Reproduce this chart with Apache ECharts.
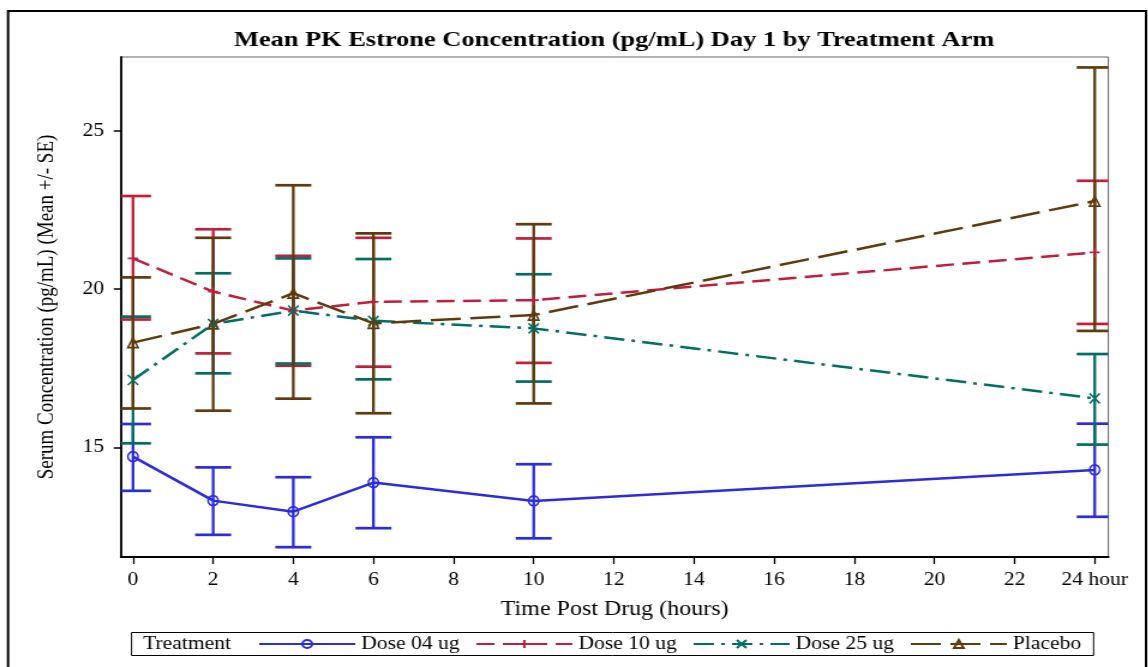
<!DOCTYPE html>
<html>
<head>
<meta charset="utf-8">
<script src="https://cdn.jsdelivr.net/npm/echarts@6/dist/echarts.min.js"></script>
<style>
  html, body { margin: 0; padding: 0; background: #fff; overflow: hidden; }
  /* The figure is laid out on a narrower canvas and widened horizontally,
     giving the wide serif lettering of the printed report. */
  #chart { width: 956.67px; height: 667px; transform: scaleX(1.2); transform-origin: 0 0; }
</style>
</head>
<body>
<div id="chart"></div>
<script>
// Sampling times (hours post dose)
const times = [0, 2, 4, 6, 10, 24];
const xTicks = [0, 2, 4, 6, 8, 10, 12, 14, 16, 18, 20, 22, 24];
const yTicks = [15, 20, 25];

// Mean estrone (pg/mL) with mean - SE / mean + SE per arm
const dose04Mean = [14.71, 13.32, 12.97, 13.89, 13.31, 14.29];
const dose04Lo   = [13.63, 12.24, 11.85, 12.45, 12.13, 12.81];
const dose04Hi   = [15.74, 14.37, 14.06, 15.32, 14.47, 15.75];

const dose10Mean = [20.97, 19.92, 19.32, 19.60, 19.65, 21.16];
const dose10Lo   = [19.04, 17.97, 17.58, 17.55, 17.67, 18.90];
const dose10Hi   = [22.94, 21.89, 21.05, 21.62, 21.60, 23.42];

const dose25Mean = [17.13, 18.90, 19.32, 19.00, 18.76, 16.55];
const dose25Lo   = [15.13, 17.34, 17.65, 17.15, 17.08, 15.09];
const dose25Hi   = [19.13, 20.50, 20.97, 20.95, 20.47, 17.95];

const placeboMean = [18.31, 18.90, 19.87, 18.92, 19.18, 22.78];
const placeboLo   = [16.23, 16.16, 16.54, 16.08, 16.39, 18.68];
const placeboHi   = [20.37, 21.62, 23.28, 21.76, 22.05, 27.00];

const arms = [
  { name: 'Dose 04 ug', mean: dose04Mean, lo: dose04Lo, hi: dose04Hi, color: '#2b2be0',
    dash: 'solid', symbol: 'path://M10,5 A5,5 0 1 1 0,5 A5,5 0 1 1 10,5 Z' },
  { name: 'Dose 10 ug', mean: dose10Mean, lo: dose10Lo, hi: dose10Hi, color: '#c01e3c',
    dash: [15, 7], symbol: 'path://M5,0 L5,10 M0,5 L10,5' },
  { name: 'Dose 25 ug', mean: dose25Mean, lo: dose25Lo, hi: dose25Hi, color: '#006e64',
    dash: [17, 6, 3, 6], symbol: 'path://M0,0 L10,10 M10,0 L0,10' },
  { name: 'Placebo', mean: placeboMean, lo: placeboLo, hi: placeboHi, color: '#5f3a0c',
    dash: [25, 8], symbol: 'path://M5,0 L10,9 L0,9 Z' }
];

const FONT = '"Liberation Serif", "DejaVu Serif", serif';

// Vertical SE bar with end caps, caps clipped to the plot area
function errorBarRenderer(color) {
  return function (params, api) {
    const x = api.value(0);
    const pHi = api.coord([x, api.value(2)]);
    const pLo = api.coord([x, api.value(1)]);
    const cs = params.coordSys;
    const hw = 15;
    const left = Math.max(pHi[0] - hw, cs.x);
    const right = Math.min(pHi[0] + hw, cs.x + cs.width);
    const capStyle = { stroke: color, lineWidth: 2.7 };
    return {
      type: 'group',
      children: [
        { type: 'line', shape: { x1: pHi[0], y1: pHi[1], x2: pLo[0], y2: pLo[1] },
          style: { stroke: color, lineWidth: 2.3 } },
        { type: 'line', shape: { x1: left, y1: pHi[1], x2: right, y2: pHi[1] }, style: capStyle },
        { type: 'line', shape: { x1: left, y1: pLo[1], x2: right, y2: pLo[1] }, style: capStyle }
      ]
    };
  };
}

const series = [];
arms.forEach(a => {
  series.push({
    name: a.name + ' SE',
    type: 'custom',
    z: 2,
    clip: true,
    renderItem: errorBarRenderer(a.color),
    data: times.map((t, i) => [t, a.lo[i], a.hi[i]]),
    silent: true
  });
});
arms.forEach(a => {
  series.push({
    name: a.name,
    type: 'line',
    z: 3,
    data: times.map((t, i) => [t, a.mean[i]]),
    symbol: a.symbol,
    symbolSize: [8.5, 10],
    showSymbol: true,
    lineStyle: { color: a.color, width: 2.5, type: a.dash },
    itemStyle: { color: 'rgba(0,0,0,0)', borderColor: a.color, borderWidth: 1.6 },
    emphasis: { disabled: true },
    animation: false
  });
});

const chart = echarts.init(document.getElementById('chart'), null, { renderer: 'canvas' });
chart.setOption({
  animation: false,
  backgroundColor: '#fff',
  grid: {
    left: 100.8, right: 33.4, top: 57, bottom: 110,
    show: true, borderColor: '#666', borderWidth: 1, backgroundColor: '#fff'
  },
  xAxis: {
    type: 'value',
    min: -0.3,
    max: 24.34,
    name: 'Time Post Drug (hours)',
    nameLocation: 'middle',
    nameGap: 43,
    nameTextStyle: { fontFamily: FONT, fontSize: 20, color: '#000' },
    axisLine: { show: true, onZero: false, lineStyle: { color: '#000', width: 2 } },
    axisTick: { show: true, length: 7, customValues: xTicks, lineStyle: { color: '#000', width: 1.3 } },
    axisLabel: {
      customValues: xTicks,
      formatter: v => (v === 24 ? '24 hour' : String(v)),
      fontFamily: FONT, fontSize: 18, color: '#000', margin: 14
    },
    splitLine: { show: false }
  },
  yAxis: {
    type: 'value',
    min: 11.54,
    max: 27.33,
    name: 'Serum Concentration (pg/mL) (Mean +/- SE)',
    nameLocation: 'middle',
    nameGap: 52,
    nameRotate: 90,
    nameTextStyle: { fontFamily: FONT, fontSize: 19, color: '#000' },
    axisLine: { show: true, onZero: false, lineStyle: { color: '#000', width: 1.8 } },
    axisTick: { show: true, length: 6, customValues: yTicks, lineStyle: { color: '#000', width: 1.5 } },
    axisLabel: { customValues: yTicks, fontFamily: FONT, fontSize: 18, color: '#000', margin: 14 },
    splitLine: { show: false }
  },
  legend: {
    data: arms.map(a => a.name),
    left: 215,
    top: 635,
    padding: 0,
    itemWidth: 80,
    itemHeight: 10,
    itemGap: 13,
    textStyle: { fontFamily: FONT, fontSize: 18, color: '#000' },
    selectedMode: false
  },
  graphic: [
    { type: 'rect', shape: { x: 6.7, y: 11, width: 948.3, height: 700 },
      style: { fill: 'none', stroke: '#000', lineWidth: 2 }, silent: true, z: -1 },
    { type: 'text', x: 511.7, y: 40,
      style: { text: 'Mean PK Estrone Concentration (pg/mL) Day 1 by Treatment Arm',
               font: 'bold 22px ' + FONT, fill: '#000', align: 'center', verticalAlign: 'middle' },
      silent: true },
    { type: 'rect', shape: { x: 109.6, y: 632.5, width: 801.7, height: 23 },
      style: { fill: 'none', stroke: '#000', lineWidth: 1 }, silent: true },
    { type: 'text', x: 119.2, y: 644,
      style: { text: 'Treatment', font: '18px ' + FONT, fill: '#000', verticalAlign: 'middle' },
      silent: true }
  ],
  series: series
});
</script>
</body>
</html>
